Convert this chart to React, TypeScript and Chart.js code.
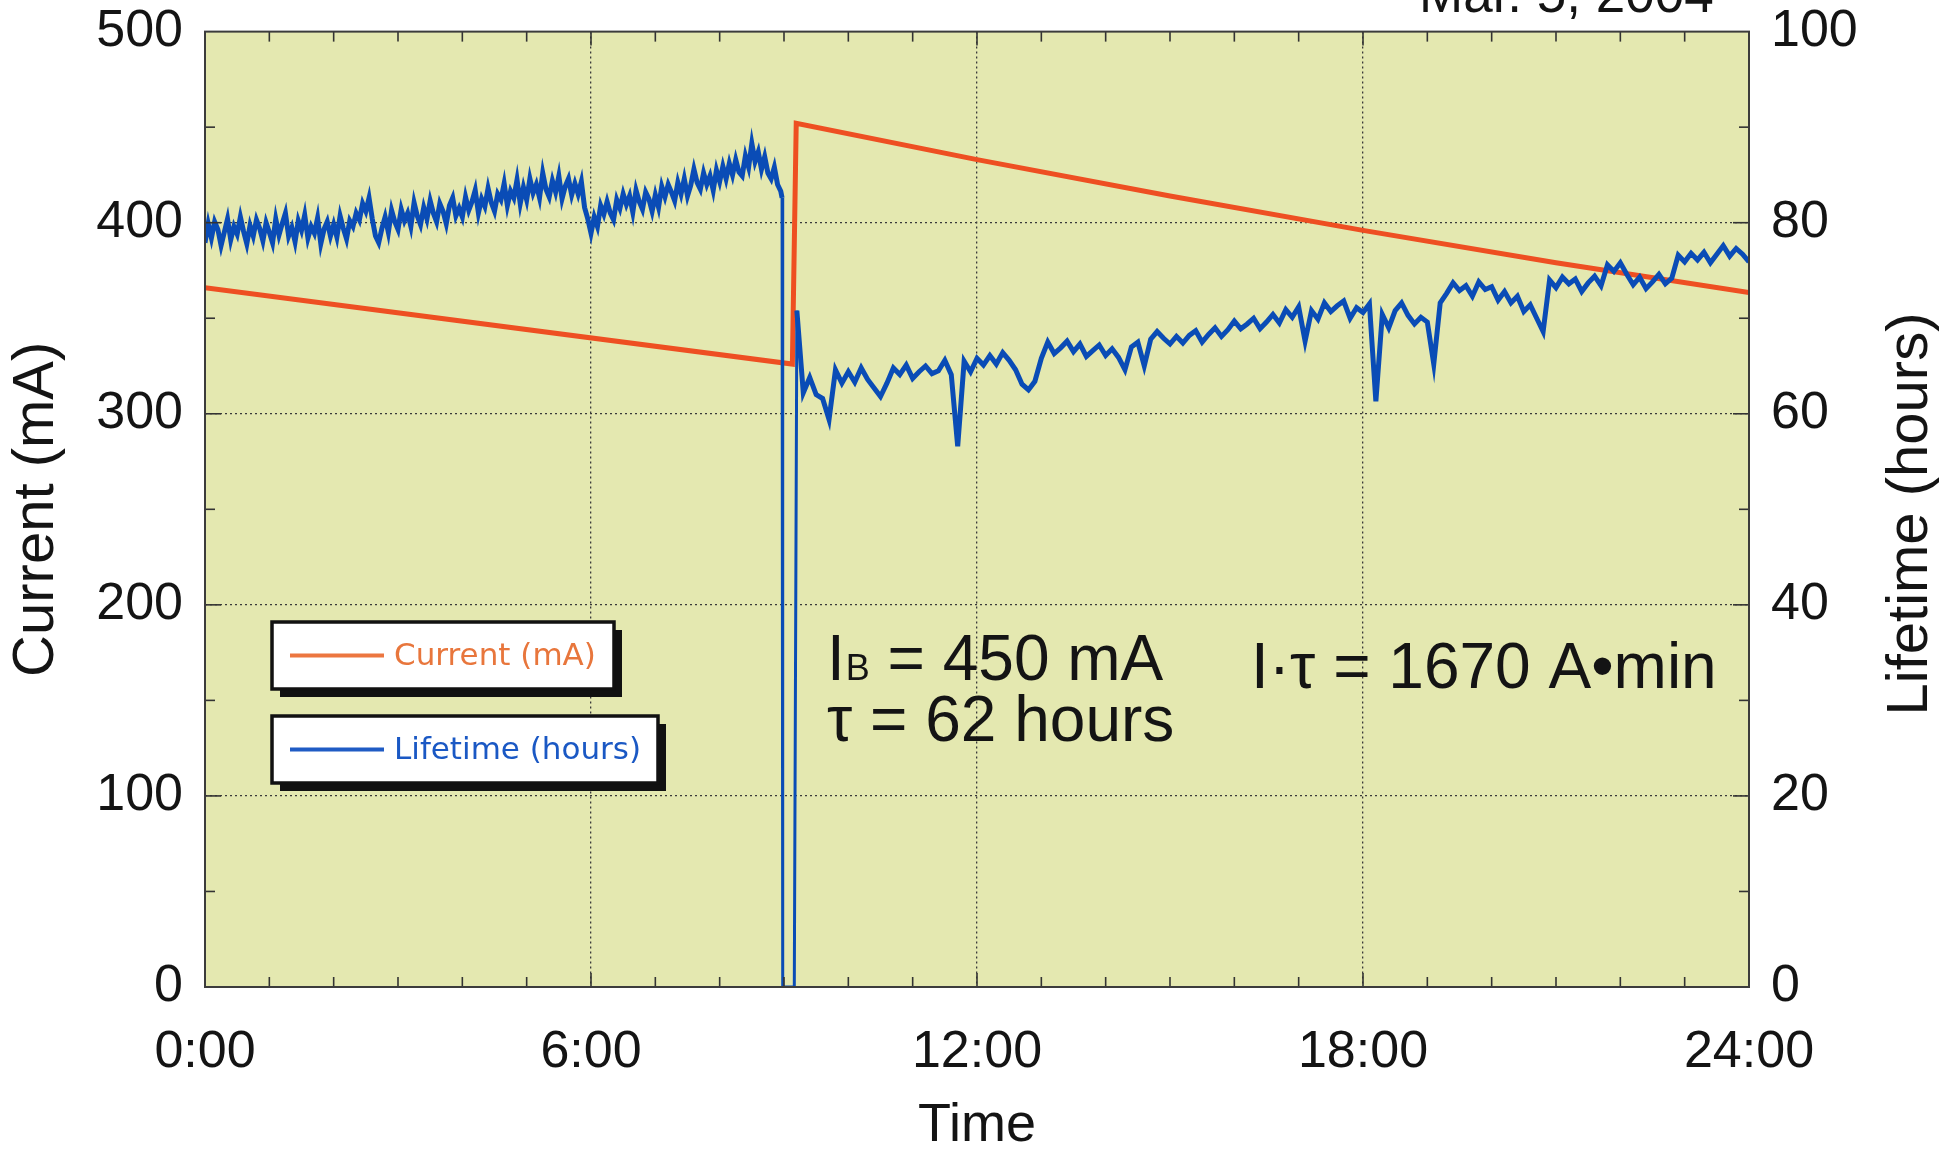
import React, { useEffect, useRef } from 'react';
import { Chart, registerables } from 'chart.js';

Chart.register(...registerables);

// ---------- data ----------
const hourTicks = [0, 6, 12, 18, 24];
const hourLabels = ['0:00', '6:00', '12:00', '18:00', '24:00'];
const currentTicks = [0, 100, 200, 300, 400, 500];
const lifetimeTicks = [0, 20, 40, 60, 80, 100];

// Beam current (mA) vs time (hours)
const currentTimes = [0, 9.13, 9.19, 12, 15, 18, 21, 24];
const currentValues = [366, 326, 452, 433, 414, 396, 379, 363.5];

// Lifetime (hours): samples every 0.05 h from 0:00 to 8:57
const lifetimeStartA = 0;
const lifetimeStepA = 0.05;
const lifetimeA = [
  77.9, 79.9, 78.4, 80.1, 79.3, 77.6, 79.0, 80.4, 78.2, 79.6, 78.8, 80.6, 79.1, 77.8, 79.7, 78.6, 80.3, 79.4, 78.1, 80.0,
  79.0, 77.9, 80.4, 78.7, 79.9, 81.0, 78.6, 79.5, 78.0, 80.2, 79.2, 80.8, 78.4, 79.6, 78.9, 80.5, 77.8, 79.3, 80.1, 78.6,
  79.8, 78.5, 80.7, 79.4, 78.3, 80.2, 79.6, 81.0, 80.3, 82.0, 81.2, 82.6, 80.4, 78.6, 77.9, 79.4, 80.6, 79.0, 81.3, 80.1,
  79.3, 81.4, 80.2, 81.0, 79.6, 82.1, 80.7, 79.8, 81.6, 80.4, 82.3, 81.0, 80.1, 82.0, 81.2, 79.9, 81.8, 82.6, 80.7, 81.5,
  80.6, 82.7, 81.3, 82.2, 83.4, 81.0, 82.5, 81.7, 83.6, 82.1, 81.2, 83.0, 82.4, 84.1, 81.8, 83.3, 82.6, 84.5, 82.0, 83.7,
  82.4, 84.6, 83.1, 84.0, 82.6, 85.2, 83.5, 82.7, 84.4, 83.2, 84.9, 82.5, 83.8, 84.6, 82.9, 84.1, 83.0, 84.3, 81.6, 80.4,
  78.9, 80.6, 79.6, 81.8, 80.9, 82.2, 81.0, 80.3, 82.4, 81.5, 83.0, 81.9, 82.8, 81.1, 83.4, 82.2, 81.4, 83.2, 82.5, 81.2,
  82.9, 81.6, 83.8, 82.7, 84.0, 83.2, 82.3, 84.2, 83.0, 84.6, 82.8, 83.9, 85.6, 84.2, 83.5, 85.2, 84.0, 84.9, 83.4, 85.5,
  84.3, 85.9, 84.6, 86.2, 85.0, 86.6, 85.3, 84.9, 87.0, 85.8, 88.3, 86.4, 87.4, 85.6, 86.9, 85.2, 84.6, 85.8, 84.0, 83.3,
];
// beam loss / refill
const dropTimes = [8.97, 8.98, 9.16];
const dropValues = [82.6, 0, 0];
// samples every 0.1 h from 9:12 to 24:00
const lifetimeStartB = 9.2;
const lifetimeStepB = 0.1;
const lifetimeB = [
  70.8, 62.2, 63.8, 62.0, 61.6, 59.4, 64.6, 63.2, 64.4, 63.3,
  64.8, 63.6, 62.7, 61.8, 63.2, 64.8, 64.1, 65.1, 63.7, 64.4,
  65.0, 64.2, 64.5, 65.6, 64.1, 56.6, 65.5, 64.4, 65.8, 65.1,
  66.1, 65.2, 66.4, 65.6, 64.6, 63.1, 62.5, 63.4, 65.8, 67.5,
  66.3, 66.9, 67.6, 66.5, 67.3, 66.0, 66.6, 67.2, 66.1, 66.8,
  65.9, 64.6, 67.0, 67.5, 65.0, 67.8, 68.6, 67.9, 67.3, 68.1,
  67.4, 68.2, 68.7, 67.5, 68.3, 69.0, 68.1, 68.8, 69.7, 68.9,
  69.4, 70.0, 68.9, 69.6, 70.4, 69.5, 70.9, 70.1, 71.2, 67.6,
  70.8, 69.9, 71.6, 70.7, 71.3, 71.8, 70.0, 71.1, 70.6, 71.5,
  61.3, 70.4, 69.0, 70.8, 71.6, 70.3, 69.4, 70.1, 69.6, 65.2,
  71.6, 72.6, 73.7, 72.9, 73.4, 72.3, 73.8, 73.0, 73.3, 71.9,
  72.8, 71.6, 72.3, 70.7, 71.4, 70.0, 68.6, 74.0, 73.2, 74.3,
  73.6, 74.1, 72.8, 73.7, 74.4, 73.4, 75.6, 74.9, 75.8, 74.6,
  73.5, 74.3, 73.1, 73.8, 74.6, 73.6, 74.2, 76.6, 75.9, 76.8,
  76.1, 76.9, 75.8, 76.7, 77.6, 76.5, 77.3, 76.7, 75.9,
];

const legendLabels = ['Current (mA)', 'Lifetime (hours)'];
const dateText = 'Mar. 5, 2004';

// ---------- styles ----------
const SANS = "'Liberation Sans', Arial, Helvetica, sans-serif";
const LEG = "'DejaVu Sans', Verdana, sans-serif";
const CURRENT_COLOR = '#EE4F22';
const LIFETIME_COLOR = '#0A4CB6';
const PLOT_BG = '#E4E8B0';
const INK = '#141414';

function buildCurrent() {
  return currentTimes.map((t, i) => ({ x: t, y: currentValues[i] }));
}
function buildLifetime() {
  const pts: { x: number; y: number }[] = [];
  lifetimeA.forEach((v, i) => pts.push({ x: Math.round((lifetimeStartA + i * lifetimeStepA) * 1000) / 1000, y: v }));
  dropTimes.forEach((t, i) => pts.push({ x: t, y: dropValues[i] }));
  lifetimeB.forEach((v, i) => pts.push({ x: Math.round((lifetimeStartB + i * lifetimeStepB) * 1000) / 1000, y: v }));
  return pts;
}

const decoPlugin = {
  id: 'deco',
  beforeDraw(chart: any) {
    const { ctx, chartArea: a } = chart;
    ctx.save();
    ctx.fillStyle = '#ffffff';
    ctx.fillRect(0, 0, chart.width, chart.height);
    ctx.fillStyle = PLOT_BG;
    ctx.fillRect(a.left, a.top, a.right - a.left, a.bottom - a.top);
    ctx.restore();
  },
  afterDraw(chart: any) {
    const { ctx, chartArea: a, scales } = chart;
    const xs = scales.x;
    const ys = scales.y;
    ctx.save();
    const line = (x1: number, y1: number, x2: number, y2: number) => {
      ctx.beginPath();
      ctx.moveTo(x1, y1);
      ctx.lineTo(x2, y2);
      ctx.stroke();
    };
    // minor/major tick marks (inside)
    ctx.strokeStyle = '#333';
    ctx.lineWidth = 1.6;
    for (let h = 1; h < 24; h++) {
      const px = xs.getPixelForValue(h);
      const len = h % 6 === 0 ? 14 : 10;
      line(px, a.bottom, px, a.bottom - len);
      line(px, a.top, px, a.top + len);
    }
    for (let v = 50; v < 500; v += 50) {
      const py = ys.getPixelForValue(v);
      const len = v % 100 === 0 ? 16 : 10;
      line(a.left, py, a.left + len, py);
      line(a.right, py, a.right - len, py);
    }
    // frame
    ctx.strokeStyle = '#3c3c3c';
    ctx.lineWidth = 2;
    ctx.strokeRect(a.left, a.top, a.right - a.left, a.bottom - a.top);

    // legend boxes
    const boxes = [
      { x: 272, y: 622, w: 342, h: 67, color: '#EC7640', text: '#E8763C', label: legendLabels[0] },
      { x: 272, y: 716, w: 386, h: 67, color: '#1F5BC4', text: '#1A58C4', label: legendLabels[1] },
    ];
    boxes.forEach((b) => {
      ctx.fillStyle = '#111';
      ctx.fillRect(b.x + 8, b.y + 8, b.w, b.h);
      ctx.fillStyle = '#ffffff';
      ctx.fillRect(b.x, b.y, b.w, b.h);
      ctx.strokeStyle = '#111';
      ctx.lineWidth = 3.5;
      ctx.strokeRect(b.x, b.y, b.w, b.h);
      const cy = b.y + b.h / 2;
      ctx.strokeStyle = b.color;
      ctx.lineWidth = 4;
      line(b.x + 18, cy, b.x + 112, cy);
      ctx.fillStyle = b.text;
      ctx.font = `31px ${LEG}`;
      ctx.textAlign = 'left';
      ctx.textBaseline = 'middle';
      ctx.fillText(b.label, b.x + 122, cy + 1);
    });

    // annotation text
    ctx.fillStyle = INK;
    ctx.textBaseline = 'alphabetic';
    ctx.textAlign = 'left';
    ctx.font = `64px ${SANS}`;
    let tx = 827;
    ctx.fillText('I', tx, 680);
    tx += ctx.measureText('I').width + 1;
    ctx.font = `36px ${SANS}`;
    ctx.fillText('B', tx, 680);
    tx += ctx.measureText('B').width;
    ctx.font = `64px ${SANS}`;
    ctx.fillText(' = 450 mA', tx, 680);
    ctx.fillText('\u03C4 = 62 hours', 827, 741);
    ctx.fillText('I\u00B7\u03C4 = 1670 A\u2022min', 1251, 688);

    // right axis title (reads bottom to top)
    ctx.save();
    ctx.translate(1911, 514);
    ctx.rotate(-Math.PI / 2);
    ctx.font = `58px ${SANS}`;
    ctx.textAlign = 'center';
    ctx.textBaseline = 'middle';
    ctx.fillText('Lifetime (hours)', 0, 0);
    ctx.restore();

    // date (partly cut off at the top)
    ctx.font = `53px ${SANS}`;
    ctx.textAlign = 'left';
    ctx.textBaseline = 'alphabetic';
    ctx.fillText(dateText, 1419, 12);
    ctx.restore();
  },
};

export default function App() {
  const canvasRef = useRef<HTMLCanvasElement | null>(null);

  useEffect(() => {
    if (!canvasRef.current) return;
    const tickFont = { family: SANS, size: 52 };
    const yTickFont = { family: SANS, size: 52, lineHeight: 0.37 };
    const chart = new Chart(canvasRef.current, {
      type: 'line',
      data: {
        datasets: [
          {
            label: legendLabels[1],
            data: buildLifetime(),
            yAxisID: 'y2',
            borderColor: LIFETIME_COLOR,
            borderWidth: 5,
            segment: {
              borderWidth: (c: any) => (c.p0.parsed.y === 0 || c.p1.parsed.y === 0 ? 3 : 5),
            },
            pointRadius: 0,
            tension: 0,
            order: 0,
          },
          {
            label: legendLabels[0],
            data: buildCurrent(),
            yAxisID: 'y',
            borderColor: CURRENT_COLOR,
            borderWidth: 5,
            pointRadius: 0,
            tension: 0,
            order: 1,
          },
        ],
      },
      options: {
        responsive: false,
        animation: false,
        layout: { padding: { top: 0, left: 0, right: 0, bottom: 0 } },
        plugins: { legend: { display: false }, tooltip: { enabled: false } },
        scales: {
          x: {
            type: 'linear',
            position: 'bottom',
            min: 0,
            max: 24,
            afterBuildTicks: (s: any) => {
              s.ticks = hourTicks.map((v) => ({ value: v }));
            },
            afterFit: (s: any) => {
              s.height = 162;
            },
            ticks: {
              autoSkip: false,
              maxRotation: 0,
              padding: 34,
              color: INK,
              font: tickFont,
              callback: (v: any) => {
                const i = hourTicks.indexOf(Number(v));
                return i >= 0 ? hourLabels[i] : '';
              },
            },
            grid: {
              drawTicks: false,
              lineWidth: 1.3,
              color: (c: any) => (c.tick && c.tick.value > 0 && c.tick.value < 24 ? '#3a3a3a' : 'rgba(0,0,0,0)'),
            },
            border: { display: false, dash: [2, 3] },
            title: {
              display: true,
              text: 'Time',
              color: INK,
              font: { family: SANS, size: 54, lineHeight: 1 },
              padding: { top: 0, bottom: -4 },
            },
          },
          y: {
            type: 'linear',
            position: 'left',
            min: 0,
            max: 500,
            afterBuildTicks: (s: any) => {
              s.ticks = currentTicks.map((v) => ({ value: v }));
            },
            afterFit: (s: any) => {
              s.width = 205;
            },
            ticks: { padding: 22, color: INK, font: yTickFont },
            grid: {
              drawTicks: false,
              lineWidth: 1.3,
              color: (c: any) => (c.tick && c.tick.value > 0 && c.tick.value < 500 ? '#3a3a3a' : 'rgba(0,0,0,0)'),
            },
            border: { display: false, dash: [2, 3] },
            title: {
              display: true,
              text: 'Current (mA)',
              color: INK,
              font: { family: SANS, size: 58, lineHeight: 1 },
              padding: { top: 8, bottom: 0 },
            },
          },
          y2: {
            type: 'linear',
            position: 'right',
            min: 0,
            max: 100,
            afterBuildTicks: (s: any) => {
              s.ticks = lifetimeTicks.map((v) => ({ value: v }));
            },
            afterFit: (s: any) => {
              s.width = 194;
            },
            ticks: { padding: 22, color: INK, font: yTickFont },
            grid: { display: false, drawTicks: false },
            border: { display: false },
          },
        },
      },
      plugins: [decoPlugin],
    } as any);
    return () => chart.destroy();
  }, []);

  return (
    <div style={{ position: 'absolute', left: 0, top: 0, width: 1943, height: 1149, background: '#fff' }}>
      <canvas ref={canvasRef} width={1943} height={1149} style={{ display: 'block' }} />
    </div>
  );
}
